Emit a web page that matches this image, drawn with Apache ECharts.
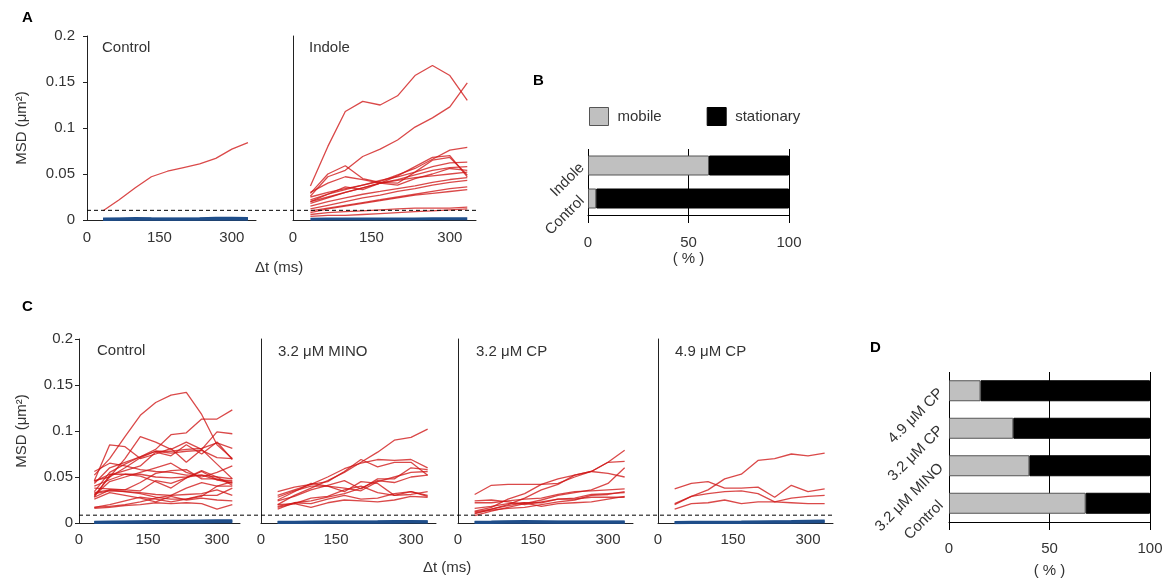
<!DOCTYPE html>
<html>
<head>
<meta charset="utf-8">
<script src="https://cdn.jsdelivr.net/npm/echarts@6/dist/echarts.min.js"></script>
<style>
  html, body { margin: 0; padding: 0; background: #fff; }
  #chart { width: 1169px; height: 583px; }
</style>
</head>
<body>
<div id="chart"></div>
<script>
// ---- data -----------------------------------------------------------------
// lag times (ms) shared by every MSD trace
const lagTimes = [33.3, 66.7, 100, 133.3, 166.7, 200, 233.3, 266.7, 300, 333.3];

// mobile-particle MSD traces (µm²), one inner array per particle
const mobileA_control = [
  [0.010, 0.022, 0.035, 0.047, 0.053, 0.057, 0.061, 0.067, 0.077, 0.084]
];
const mobileA_indole = [
  [0.037, 0.080, 0.118, 0.129, 0.125, 0.135, 0.157, 0.168, 0.157, 0.130],
  [0.026, 0.047, 0.054, 0.069, 0.077, 0.087, 0.101, 0.111, 0.123, 0.149],
  [0.029, 0.050, 0.059, 0.045, 0.041, 0.040, 0.052, 0.065, 0.068, 0.049],
  [0.025, 0.030, 0.034, 0.038, 0.042, 0.049, 0.056, 0.066, 0.076, 0.079],
  [0.020, 0.025, 0.030, 0.035, 0.040, 0.048, 0.058, 0.068, 0.070, 0.047],
  [0.022, 0.028, 0.033, 0.038, 0.043, 0.047, 0.052, 0.058, 0.062, 0.063],
  [0.018, 0.024, 0.030, 0.035, 0.040, 0.044, 0.049, 0.054, 0.057, 0.058],
  [0.020, 0.028, 0.036, 0.033, 0.040, 0.043, 0.046, 0.048, 0.050, 0.052],
  [0.015, 0.020, 0.024, 0.028, 0.031, 0.034, 0.037, 0.041, 0.044, 0.046],
  [0.010, 0.013, 0.016, 0.019, 0.022, 0.025, 0.028, 0.031, 0.034, 0.036],
  [0.008, 0.012, 0.015, 0.018, 0.021, 0.024, 0.027, 0.029, 0.031, 0.033],
  [0.006, 0.008, 0.009, 0.010, 0.011, 0.012, 0.013, 0.013, 0.013, 0.014],
  [0.004, 0.005, 0.005, 0.006, 0.007, 0.008, 0.009, 0.010, 0.011, 0.012],
  [0.012, 0.016, 0.020, 0.024, 0.027, 0.031, 0.034, 0.038, 0.041, 0.043],
  [0.030, 0.040, 0.047, 0.044, 0.040, 0.038, 0.045, 0.050, 0.056, 0.054]
];
const mobileC_control = [
  [0.052, 0.070, 0.094, 0.117, 0.131, 0.139, 0.142, 0.118, 0.085, 0.070],
  [0.043, 0.060, 0.066, 0.072, 0.080, 0.096, 0.098, 0.113, 0.113, 0.123],
  [0.046, 0.085, 0.083, 0.070, 0.075, 0.081, 0.066, 0.080, 0.099, 0.097],
  [0.030, 0.050, 0.070, 0.094, 0.088, 0.080, 0.088, 0.080, 0.064, 0.048],
  [0.034, 0.055, 0.064, 0.072, 0.078, 0.078, 0.080, 0.081, 0.087, 0.081],
  [0.028, 0.052, 0.057, 0.062, 0.077, 0.073, 0.085, 0.075, 0.088, 0.069],
  [0.030, 0.045, 0.050, 0.055, 0.060, 0.065, 0.055, 0.050, 0.055, 0.062],
  [0.056, 0.065, 0.062, 0.058, 0.056, 0.055, 0.052, 0.052, 0.050, 0.048],
  [0.045, 0.053, 0.053, 0.053, 0.050, 0.049, 0.050, 0.052, 0.047, 0.046],
  [0.038, 0.037, 0.036, 0.044, 0.054, 0.057, 0.058, 0.048, 0.048, 0.044],
  [0.033, 0.036, 0.036, 0.035, 0.046, 0.043, 0.049, 0.056, 0.047, 0.043],
  [0.032, 0.035, 0.034, 0.033, 0.031, 0.030, 0.038, 0.044, 0.040, 0.040],
  [0.028, 0.036, 0.034, 0.032, 0.028, 0.026, 0.026, 0.030, 0.030, 0.038],
  [0.026, 0.033, 0.030, 0.027, 0.023, 0.029, 0.025, 0.027, 0.025, 0.024],
  [0.017, 0.018, 0.020, 0.023, 0.027, 0.030, 0.031, 0.032, 0.036, 0.030],
  [0.016, 0.017, 0.019, 0.020, 0.022, 0.021, 0.022, 0.021, 0.015, 0.020],
  [0.017, 0.020, 0.024, 0.028, 0.026, 0.023, 0.026, 0.029, 0.040, 0.045],
  [0.040, 0.047, 0.053, 0.051, 0.045, 0.038, 0.049, 0.057, 0.050, 0.041],
  [0.046, 0.050, 0.060, 0.071, 0.078, 0.076, 0.078, 0.079, 0.071, 0.070]
];
const mobileC_mino = [
  [0.020, 0.030, 0.038, 0.046, 0.055, 0.066, 0.077, 0.090, 0.093, 0.102],
  [0.034, 0.039, 0.042, 0.045, 0.056, 0.069, 0.061, 0.066, 0.066, 0.052],
  [0.030, 0.036, 0.042, 0.050, 0.059, 0.065, 0.069, 0.068, 0.069, 0.060],
  [0.024, 0.029, 0.036, 0.041, 0.046, 0.037, 0.048, 0.048, 0.060, 0.058],
  [0.028, 0.035, 0.040, 0.040, 0.038, 0.035, 0.045, 0.050, 0.055, 0.056],
  [0.018, 0.022, 0.024, 0.028, 0.032, 0.038, 0.046, 0.044, 0.050, 0.052],
  [0.020, 0.021, 0.027, 0.029, 0.036, 0.040, 0.033, 0.030, 0.031, 0.034],
  [0.015, 0.022, 0.021, 0.026, 0.030, 0.026, 0.027, 0.032, 0.034, 0.029],
  [0.017, 0.021, 0.017, 0.022, 0.025, 0.024, 0.023, 0.025, 0.029, 0.028],
  [0.025, 0.034, 0.043, 0.040, 0.034, 0.045, 0.043, 0.030, 0.034, 0.030]
];
const mobileC_cp32 = [
  [0.031, 0.041, 0.042, 0.042, 0.042, 0.043, 0.050, 0.056, 0.054, 0.050],
  [0.013, 0.017, 0.026, 0.032, 0.042, 0.048, 0.052, 0.056, 0.066, 0.079],
  [0.010, 0.015, 0.020, 0.027, 0.036, 0.042, 0.052, 0.056, 0.066, 0.067],
  [0.008, 0.013, 0.017, 0.021, 0.025, 0.030, 0.033, 0.036, 0.043, 0.060],
  [0.022, 0.022, 0.024, 0.026, 0.027, 0.031, 0.034, 0.035, 0.036, 0.037],
  [0.012, 0.015, 0.019, 0.022, 0.022, 0.026, 0.027, 0.031, 0.032, 0.033],
  [0.011, 0.014, 0.016, 0.017, 0.020, 0.023, 0.025, 0.030, 0.031, 0.034],
  [0.016, 0.018, 0.021, 0.022, 0.018, 0.021, 0.022, 0.023, 0.026, 0.029],
  [0.024, 0.025, 0.023, 0.020, 0.023, 0.026, 0.026, 0.028, 0.028, 0.028]
];
const mobileC_cp49 = [
  [0.020, 0.029, 0.036, 0.048, 0.053, 0.068, 0.070, 0.075, 0.073, 0.076],
  [0.037, 0.043, 0.045, 0.038, 0.038, 0.039, 0.028, 0.041, 0.034, 0.037],
  [0.021, 0.029, 0.032, 0.034, 0.035, 0.032, 0.023, 0.027, 0.029, 0.030],
  [0.015, 0.021, 0.022, 0.025, 0.021, 0.023, 0.023, 0.022, 0.021, 0.021]
];

// stationary-particle MSD traces (µm²)
const stationaryA_control = [
  [0.0010, 0.0012, 0.0016, 0.0013, 0.0011, 0.0011, 0.0013, 0.0018, 0.0020, 0.0016],
  [0.0006, 0.0007, 0.0008, 0.0007, 0.0007, 0.0007, 0.0008, 0.0009, 0.0010, 0.0009]
];
const stationaryA_indole = [
  [0.0009, 0.0010, 0.0011, 0.0011, 0.0012, 0.0012, 0.0012, 0.0013, 0.0013, 0.0013]
];
const stationaryC_control = [
  [0.0008, 0.0010, 0.0012, 0.0014, 0.0016, 0.0018, 0.0020, 0.0022, 0.0024, 0.0025],
  [0.0005, 0.0006, 0.0007, 0.0008, 0.0009, 0.0010, 0.0011, 0.0012, 0.0013, 0.0014]
];
const stationaryC_mino = [
  [0.0008, 0.0009, 0.0010, 0.0011, 0.0012, 0.0012, 0.0013, 0.0015, 0.0017, 0.0014],
  [0.0005, 0.0006, 0.0006, 0.0007, 0.0007, 0.0008, 0.0008, 0.0009, 0.0010, 0.0010]
];
const stationaryC_cp32 = [
  [0.0009, 0.0010, 0.0013, 0.0016, 0.0014, 0.0011, 0.0011, 0.0011, 0.0012, 0.0012],
  [0.0005, 0.0006, 0.0007, 0.0008, 0.0008, 0.0007, 0.0007, 0.0007, 0.0008, 0.0008]
];
const stationaryC_cp49 = [
  [0.0006, 0.0007, 0.0008, 0.0009, 0.0010, 0.0012, 0.0014, 0.0016, 0.0019, 0.0022],
  [0.0004, 0.0005, 0.0005, 0.0006, 0.0006, 0.0007, 0.0008, 0.0009, 0.0011, 0.0013]
];

// MSD cut-off separating mobile from stationary particles (µm²)
const cutoffA = 0.0105;
const cutoffC = 0.0085;

// fraction of mobile / stationary particles (%)
const categoriesB = ['Control', 'Indole'];
const mobilePctB = [4.1, 60.2];
const stationaryPctB = [95.9, 39.8];
const categoriesD = ['Control', '3.2 μM MINO', '3.2 μM CP', '4.9 μM CP'];
const mobilePctD = [68, 40, 32, 15.7];
const stationaryPctD = [32, 60, 68, 84.3];

// ---- chart ----------------------------------------------------------------
const FONT = '"Liberation Sans", Arial, Helvetica, sans-serif';
const TEXT = '#333';
const AXIS = '#222';
const RED = 'rgba(208, 22, 22, 0.78)';
const BLUE = '#1f4e8a';

const grids = [], xAxes = [], yAxes = [], series = [];

function addGrid(g) {
  grids.push(Object.assign({ outerBoundsMode: 'none', containLabel: false }, g));
  return grids.length - 1;
}

// one MSD panel: red traces for mobile particles, blue for stationary
function msdPanel(box, mobile, stationary, opts) {
  const i = addGrid(box);
  xAxes.push({
    gridIndex: i, type: 'value', min: 0, max: 350, interval: 150,
    axisLine: { show: true, onZero: false, lineStyle: { color: AXIS, width: 1 } },
    axisTick: { show: false },
    axisLabel: { margin: opts.xMargin, showMaxLabel: false, fontSize: 15, color: TEXT, fontFamily: FONT },
    splitLine: { show: false }
  });
  yAxes.push({
    gridIndex: i, type: 'value', min: 0, max: 0.2, interval: 0.05,
    axisLine: { show: true, onZero: false, lineStyle: { color: AXIS, width: 1 } },
    axisTick: { show: !!opts.labels, length: 4, lineStyle: { color: AXIS } },
    axisLabel: { show: !!opts.labels, margin: opts.yMargin || 8, fontSize: 15, color: TEXT, fontFamily: FONT },
    splitLine: { show: false },
    name: opts.labels ? 'MSD (μm²)' : '',
    nameLocation: 'middle', nameGap: opts.nameGap || 50,
    nameTextStyle: { fontSize: 15, color: TEXT, fontFamily: FONT }
  });
  stationary.forEach(v => series.push({
    type: 'line', xAxisIndex: i, yAxisIndex: i, symbol: 'none', silent: true,
    data: lagTimes.map((t, k) => [t, v[k]]),
    lineStyle: { color: BLUE, width: 3 }, z: 2
  }));
  mobile.forEach(v => series.push({
    type: 'line', xAxisIndex: i, yAxisIndex: i, symbol: 'none', silent: true,
    data: lagTimes.map((t, k) => [t, v[k]]),
    lineStyle: { color: RED, width: 1.3 }, z: 3
  }));
}

// dashed cut-off line running across a whole row of panels
function cutoffRow(box, value) {
  const i = addGrid(box);
  xAxes.push({ gridIndex: i, type: 'value', min: 0, max: 1, show: false });
  yAxes.push({ gridIndex: i, type: 'value', min: 0, max: 0.2, show: false });
  series.push({
    type: 'line', xAxisIndex: i, yAxisIndex: i, symbol: 'none', silent: true,
    data: [[0, value], [1, value]],
    lineStyle: { color: '#000', width: 1, type: [4, 3] }, z: 4
  });
}

// stacked percentage bars
function fractionPanel(box, cats, mob, stat, opts) {
  const i = addGrid(box);
  xAxes.push({
    gridIndex: i, type: 'value', min: 0, max: 100, interval: 50,
    axisLine: { show: true, onZero: false, lineStyle: { color: '#000', width: 1 } },
    axisTick: { show: true, length: 8, lineStyle: { color: '#000' } },
    splitLine: { show: true, lineStyle: { color: '#000', width: 1 } },
    axisLabel: { margin: opts.xMargin, fontSize: 15, color: TEXT, fontFamily: FONT },
    name: '( % )', nameLocation: 'middle', nameGap: opts.nameGap,
    nameTextStyle: { fontSize: 15, color: TEXT, fontFamily: FONT }
  });
  yAxes.push({
    gridIndex: i, type: 'category', data: cats,
    axisLine: { show: false }, axisTick: { show: false },
    axisLabel: { rotate: 45, margin: opts.yMargin, fontSize: 15, color: TEXT, fontFamily: FONT }
  });
  series.push({
    name: 'mobile', type: 'bar', stack: 'frac' + i, xAxisIndex: i, yAxisIndex: i,
    barWidth: opts.barWidth, data: mob, silent: true,
    itemStyle: { color: '#c0c0c0', borderColor: '#555', borderWidth: 1 }
  });
  series.push({
    name: 'stationary', type: 'bar', stack: 'frac' + i, xAxisIndex: i, yAxisIndex: i,
    barWidth: opts.barWidth, data: stat, silent: true,
    itemStyle: { color: '#000', borderColor: '#000', borderWidth: 1 }
  });
}

// row A
msdPanel({ left: 87, top: 36, width: 169, height: 184 }, mobileA_control, stationaryA_control,
  { labels: true, xMargin: 10, yMargin: 12, nameGap: 58 });
msdPanel({ left: 293, top: 36, width: 183, height: 184 }, mobileA_indole, stationaryA_indole,
  { xMargin: 10 });
cutoffRow({ left: 87, top: 36, width: 390, height: 184 }, cutoffA);

// row C
msdPanel({ left: 79, top: 339, width: 161, height: 184 }, mobileC_control, stationaryC_control,
  { labels: true, xMargin: 9, yMargin: 6, nameGap: 50 });
msdPanel({ left: 261, top: 339, width: 175, height: 184 }, mobileC_mino, stationaryC_mino, { xMargin: 9 });
msdPanel({ left: 458, top: 339, width: 175, height: 184 }, mobileC_cp32, stationaryC_cp32, { xMargin: 9 });
msdPanel({ left: 658, top: 339, width: 175, height: 184 }, mobileC_cp49, stationaryC_cp49, { xMargin: 9 });
cutoffRow({ left: 79, top: 339, width: 756, height: 184 }, cutoffC);

// B and D
fractionPanel({ left: 588, top: 149, width: 201, height: 66 }, categoriesB, mobilePctB, stationaryPctB,
  { xMargin: 20, nameGap: 35, yMargin: 6, barWidth: 20 });
fractionPanel({ left: 949, top: 372, width: 201, height: 150 }, categoriesD, mobilePctD, stationaryPctD,
  { xMargin: 19, nameGap: 41, yMargin: 8, barWidth: 21 });

function label(text, left, top, bold) {
  return {
    text, left, top, padding: 0,
    textStyle: { fontSize: 15, fontWeight: bold ? 'bold' : 'normal', color: bold ? '#000' : TEXT, fontFamily: FONT }
  };
}

const option = {
  animation: false,
  backgroundColor: '#fff',
  title: [
    label('A', 22, 10, true),
    label('B', 533, 73, true),
    label('C', 22, 299, true),
    label('D', 870, 340, true),
    label('Control', 102, 40),
    label('Indole', 309, 40),
    label('Control', 97, 343),
    label('3.2 μM MINO', 278, 344),
    label('3.2 μM CP', 476, 344),
    label('4.9 μM CP', 675, 344),
    label('Δt (ms)', 255, 260),
    label('Δt (ms)', 423, 560)
  ],
  legend: {
    left: 589, top: 107, padding: 0, itemWidth: 19, itemHeight: 18, itemGap: 45,
    icon: 'rect', selectedMode: false,
    textStyle: { fontSize: 15, color: TEXT, fontFamily: FONT, padding: [0, 0, 0, 4] },
    data: [
      { name: 'mobile', itemStyle: { color: '#c0c0c0', borderColor: '#555', borderWidth: 1 } },
      { name: 'stationary', itemStyle: { color: '#000', borderColor: '#000', borderWidth: 1 } }
    ]
  },
  grid: grids,
  xAxis: xAxes,
  yAxis: yAxes,
  series: series
};

const chart = echarts.init(document.getElementById('chart'), null, { renderer: 'canvas' });
chart.setOption(option);
</script>
</body>
</html>
